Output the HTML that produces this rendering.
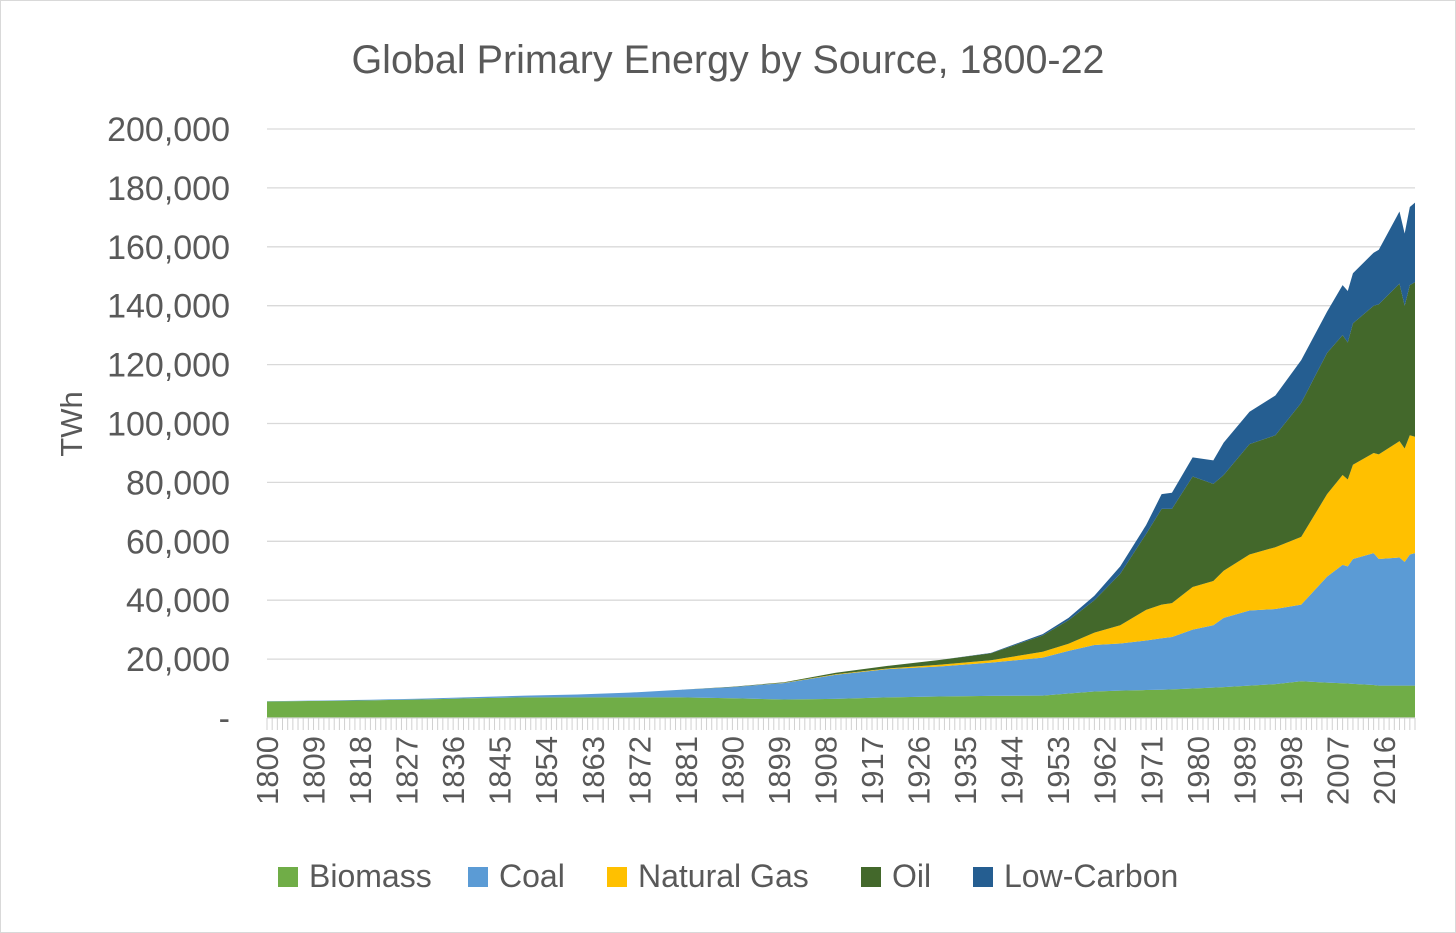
<!DOCTYPE html>
<html><head><meta charset="utf-8"><style>
html,body{margin:0;padding:0;background:#fff;}
svg{display:block;font-family:"Liberation Sans",sans-serif;}
</style></head><body>
<svg id="chart" width="1456" height="933" viewBox="0 0 1456 933">
<rect x="0.5" y="0.5" width="1455" height="932" fill="#fff" stroke="#d9d9d9"/>
<text x="728" y="73" text-anchor="middle" font-size="39.5" fill="#595959">Global Primary Energy by Source, 1800-22</text>
<text transform="translate(82,424) rotate(-90)" text-anchor="middle" font-size="31" fill="#595959">TWh</text>
<g id="grid"></g><g id="areas"></g><g id="axes"></g><g id="legend"></g>
</svg>
<script>
const years=[1800,1810,1820,1830,1840,1850,1860,1870,1880,1890,1900,1910,1920,1930,1940,1950,1955,1960,1965,1970,1973,1975,1979,1983,1985,1990,1995,2000,2005,2008,2009,2010,2014,2015,2019,2020,2021,2022];
const biomass=[5600,5800,6000,6300,6700,7000,7000,7000,7000,6700,6300,6500,7000,7300,7500,7600,8300,9000,9300,9500,9600,9700,10000,10300,10500,11000,11500,12500,12000,11800,11700,11600,11200,11000,11000,11000,11000,11000];
const coal=[100,150,200,300,400,600,1000,1600,2600,3800,5600,8200,9600,10200,11300,12900,14500,15800,16000,16800,17500,17800,20000,21200,23500,25500,25500,26000,36000,40200,39800,42400,44800,43000,43500,42000,44500,45000];
const gas=[0,0,0,0,0,0,0,0,0,0,60,150,200,600,800,2000,2400,4200,6200,10400,11400,11500,14500,15000,16000,19000,21000,23000,28000,30500,29500,32000,34000,35500,39500,38500,40500,39500];
const oil=[0,0,0,0,0,0,0,0,0,100,200,500,900,1600,2400,5500,8000,11000,17500,25800,32500,32000,37500,33000,32500,37500,38000,45500,48000,47500,46500,48000,50000,51000,53500,48500,51000,52500];
const lowCarbon=[0,0,0,0,0,0,0,0,0,0,0,0,0,0,100,500,800,1500,2500,3000,5000,5500,6500,8000,11000,11000,13500,14500,14000,17000,17500,17000,18000,18500,24500,24500,26500,27000];
const yTicks=[0,20000,40000,60000,80000,100000,120000,140000,160000,180000,200000];
const yTickLabels=["-","20,000","40,000","60,000","80,000","100,000","120,000","140,000","160,000","180,000","200,000"];
const seriesNames=["Biomass","Coal","Natural Gas","Oil","Low-Carbon"];
const seriesColors=["#70ad47","#5b9bd5","#ffc000","#43682b","#255e91"];
const NS="http://www.w3.org/2000/svg";
const X0=267,X1=1415,Y0=718,Y1=129;
const xs=y=>X0+(y-1800)/(2022-1800)*(X1-X0);
const ys=v=>Y0-v/200000*(Y0-Y1);
function mk(tag,attrs,parent){const e=document.createElementNS(NS,tag);for(const k in attrs)e.setAttribute(k,attrs[k]);parent.appendChild(e);return e;}
const grid=document.getElementById('grid'),areas=document.getElementById('areas'),axes=document.getElementById('axes'),legend=document.getElementById('legend');
yTicks.forEach((t,i)=>{
  if(t>0){const l=mk('line',{x1:X0,x2:X1,y1:ys(t),y2:ys(t),stroke:'#d9d9d9','stroke-width':1.3},grid);
  
  }
  const tx=mk('text',{x:230,y:ys(t)+12,'text-anchor':'end','font-size':34,fill:'#595959'},axes);
  tx.textContent=yTickLabels[i];
  
  
});
const series=[biomass,coal,gas,oil,lowCarbon];
let base=years.map(()=>0);
series.forEach((s,si)=>{
  const top=base.map((b,i)=>b+s[i]);
  let d='M'+years.map((y,i)=>xs(y)+','+ys(top[i])).join('L');
  for(let i=years.length-1;i>=0;i--)d+='L'+xs(years[i])+','+ys(base[i]);
  d+='Z';
  const p=mk('path',{d:d,fill:seriesColors[si]},areas);
  
  
  base=top;
});
const ax=mk('line',{x1:X0,x2:X1,y1:Y0,y2:Y0,stroke:'#d9d9d9','stroke-width':1.3},axes);


for(let y=1800;y<=2022;y++){
  const t=mk('line',{x1:xs(y),x2:xs(y),y1:Y0,y2:Y0+12,stroke:'#d0d0d0','stroke-width':1},axes);
  
  
}
for(let y=1800;y<=2022;y+=9){
  const tx=mk('text',{transform:'translate('+(xs(y)+11)+','+(Y0+18)+') rotate(-90)','text-anchor':'end','font-size':31,fill:'#595959'},axes);
  tx.textContent=y;
  
  
}
const lx=[278,468,607,861,973];
seriesNames.forEach((n,i)=>{
  const g=mk('g',{},legend);
  
  
  mk('rect',{x:lx[i],y:867,width:20,height:20,fill:seriesColors[i]},g);
  const t=mk('text',{x:lx[i]+31,y:887,'font-size':32,fill:'#595959'},g);
  t.textContent=n;
});
</script>
</body></html>
